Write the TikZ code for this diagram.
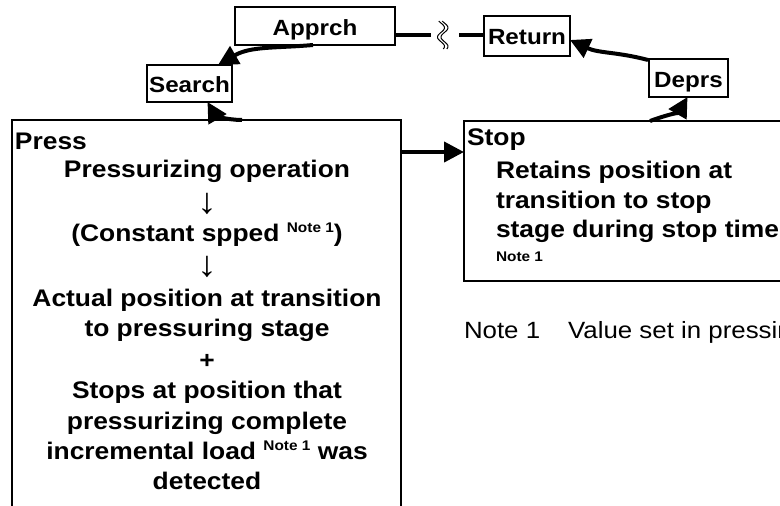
\documentclass[tikz,border=0pt]{standalone}
\usepackage{fontspec}
\setmainfont{Liberation Sans}[FakeStretch=1.1]
\usetikzlibrary{arrows.meta,calc}
\newcommand{\nsup}[1]{\raisebox{9pt}{\fontsize{14}{14}\selectfont #1}}
\begin{document}
\begin{tikzpicture}[x=1pt,y=1pt,
  every node/.style={inner sep=0pt, outer sep=0pt},
  lbl/.style={draw, line width=1.3pt, fill=white, font=\fontsize{22}{22}\selectfont\bfseries,
    text height=18pt, text depth=0pt},
  body/.style={font=\fontsize{24}{24}\selectfont\bfseries, anchor=base},
  bodyw/.style={font=\fontsize{24}{24}\selectfont\bfseries, anchor=base west},
  downarrow/.style={anchor=center, font=\fontsize{36}{36}\selectfont},
  flow/.style={line width=4pt, -{Triangle[length=20pt,width=20pt]}},
  link/.style={line width=4pt},
  brkline/.style={line width=1pt},
]
\useasboundingbox (0,0) rectangle (780,-506);
\clip (0,0) rectangle (780,-506);

% containers
\node[draw, line width=1.5pt, anchor=north west, minimum width=389pt, minimum height=420pt] (press) at (12,-120) {};
\node[draw, line width=2pt, anchor=north west, minimum width=400pt, minimum height=160pt] (stop) at (464,-121) {};

% label boxes
\node[lbl, minimum width=160pt, minimum height=38pt] (apprch) at (315,-26) {Apprch};
\node[lbl, minimum width=85pt, minimum height=37pt] (search) at (189.5,-83.5) {Search};
\node[lbl, minimum width=86pt, minimum height=40pt] (return) at (527,-36) {Return};
\node[lbl, minimum width=79pt, minimum height=38pt] (deprs) at (688.5,-78) {Deprs};

% Press box text
\node[bodyw] (presst) at (15,-149) {Press};
\node[body] (p1) at (207,-177) {Pressurizing operation};
\node[downarrow] (a1) at (207,-204) {↓};
\node[body] (p2) at (207,-241) {(Constant spped \nsup{Note 1})};
\node[downarrow] (a2) at (207,-267) {↓};
\node[body] (p3) at (207,-306) {Actual position at transition};
\node[body] (p4) at (207,-336) {to pressuring stage};
\node[body] (p5) at (207,-368) {+};
\node[body] (p6) at (207,-398) {Stops at position that};
\node[body] (p7) at (207,-429) {pressurizing complete};
\node[body] (p8) at (207,-459) {incremental load \nsup{Note 1} was};
\node[body] (p9) at (207,-489) {detected};

% Stop box text
\node[bodyw] (stopt) at (467,-145) {Stop};
\node[bodyw] (s1) at (496,-178) {Retains position at};
\node[bodyw] (s2) at (496,-208) {transition to stop};
\node[bodyw] (s3) at (496,-237) {stage during stop time};
\node[anchor=base west, font=\fontsize{14}{14}\selectfont\bfseries] (s4) at (496,-261) {Note 1};

% note
\node[anchor=base west, font=\fontsize{23.5}{24}\selectfont] (note) at (464,-338) {Note 1\hspace{28pt}Value set in pressing};

% connectors
\draw[flow] ([xshift=-2pt]apprch.south) to[out=185, in=30] ([xshift=-14pt]search.north east);
\draw[flow] ([xshift=10pt]search.south east |- press.north) to[out=180, in=-60] ([xshift=18pt]search.south);
\draw[flow] ([yshift=-32pt]press.north east) -- ([yshift=-31pt]stop.north west);
\draw[flow] ([xshift=186pt]stop.north west) to[out=20, in=-120] ([xshift=-1pt]deprs.south);
\draw[flow] ([xshift=-1pt,yshift=-1pt]deprs.north west) to[out=165, in=-25] ([yshift=-4pt]return.east);

% broken link Apprch -- Return
\coordinate (brk) at (443,-35);
\draw[link] ([yshift=-9pt]apprch.east) -- ($(brk)+(-12,0)$);
\draw[link] ($(brk)+(16,0)$) -- ([yshift=1pt]return.west);
\draw[brkline] plot[domain=0:1, samples=40, smooth, variable=\t] ({441+3.5*sin(540*\t-40)}, {-21-28*\t});
\draw[brkline] plot[domain=0:1, samples=40, smooth, variable=\t] ({444.5+3.5*sin(540*\t-40)}, {-21-28*\t});
\end{tikzpicture}
\end{document}
